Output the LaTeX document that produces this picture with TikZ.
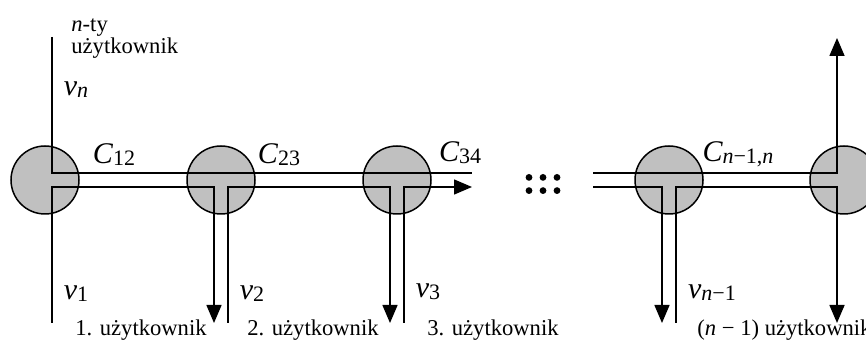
\documentclass[tikz,border=0pt]{standalone}
\usepackage{fontspec}
\setmainfont{Liberation Serif}
\usetikzlibrary{arrows.meta, positioning, calc}
\definecolor{nodegray}{RGB}{192,192,192}
\newcommand{\varlab}[2]{{\fontsize{15}{15}\selectfont\itshape #1}{\fontsize{11}{11}\selectfont\raisebox{-1pt}{#2}}}
\tikzset{
  station/.style={
    circle,
    draw,
    fill=nodegray,
    line width=0.75pt,
    minimum size=34pt,
    inner sep=0pt,
    outer sep=0pt
  },
  wire/.style={line width=0.75pt},
  arrow/.style={-{Triangle[length=9pt, width=7.5pt]}, line width=0.75pt},
  lab/.style={inner sep=0pt, font=\fontsize{11.3}{11}\selectfont},
  varnode/.style={inner sep=0pt}
}
\begin{document}
\begin{tikzpicture}[x=1pt, y=1pt]
  \useasboundingbox (0,0) rectangle (433,-170);

  \node[station] (s1) at (22.5,-90) {};
  \node[station, right=54pt of s1] (s2) {};
  \node[station, right=54pt of s2] (s3) {};
  \node[station, right=102pt of s3] (s4) {};
  \node[station, right=53.5pt of s4] (s5) {};

  % free ends of the lines
  \coordinate (top1) at ($(s1)+(3.5,71.5)$);
  \coordinate (bot1) at ($(s1)+(3.5,-71.5)$);
  \coordinate (tip2) at ($(s2)+(-3.5,-71.5)$);
  \coordinate (foot2) at ($(s2)+(3.5,-71.5)$);
  \coordinate (tip3) at ($(s3)+(-3.5,-71.5)$);
  \coordinate (foot3) at ($(s3)+(3.5,-71.5)$);
  \coordinate (end3u) at (236,-86.5);
  \coordinate (end3l) at (236,-93.5);
  \coordinate (beg4u) at (296.5,-86.5);
  \coordinate (beg4l) at (296.5,-93.5);
  \coordinate (tip4) at ($(s4)+(-3.5,-71.5)$);
  \coordinate (foot4) at ($(s4)+(3.5,-71.5)$);
  \coordinate (top5) at ($(s5)+(-3.5,71)$);
  \coordinate (tip5) at ($(s5)+(-3.5,-71.5)$);

  \draw[wire] (top1) -- ($(s1)+(3.5,3.5)$) -- (end3u);
  \draw[arrow] (bot1) -- ($(s1)+(3.5,-3.5)$) -- ($(s2)+(-3.5,-3.5)$) -- (tip2);
  \draw[arrow] (foot2) -- ($(s2)+(3.5,-3.5)$) -- ($(s3)+(-3.5,-3.5)$) -- (tip3);
  \draw[arrow] (foot3) -- ($(s3)+(3.5,-3.5)$) -- (end3l);

  \draw[arrow] (beg4u) -- ($(s5)+(-3.5,3.5)$) -- (top5);
  \draw[arrow] (beg4l) -- ($(s4)+(-3.5,-3.5)$) -- (tip4);
  \draw[arrow] (foot4) -- ($(s4)+(3.5,-3.5)$) -- ($(s5)+(-3.5,-3.5)$) -- (tip5);

  % dots
  \foreach \dx in {264.5, 271.5, 278.5}
    \foreach \dy in {-88.7, -95.3}
      \fill (\dx,\dy) circle (1.7);

  % labels
  \node[lab, anchor=north west, align=left] (nth) at (35.5,-9)
        {\textit{n}-ty\\użytkownik};
  \node[varnode] (vn) at (38,-45) {\varlab{v}{\itshape n}};
  \node[varnode] (c12) at (57,-77.5) {\varlab{C}{12}};
  \node[varnode] (c23) at (139.5,-77.5) {\varlab{C}{23}};
  \node[varnode] (c34) at (230,-76.5) {\varlab{C}{34}};
  \node[varnode] (cn) at (369,-77) {\varlab{C}{\textit{n}−1,\textit{n}}};
  \node[varnode] (v1) at (38,-147) {\varlab{v}{1}};
  \node[varnode] (v2) at (126,-147) {\varlab{v}{2}};
  \node[varnode] (v3) at (214,-146) {\varlab{v}{3}};
  \node[varnode] (vn1) at (356,-146.5) {\varlab{v}{\textit{n}−1}};

  \node[lab, anchor=base west] (u1) at (37.5,-168) {1. użytkownik};
  \node[lab, anchor=base west] (u2) at (123.5,-168) {2. użytkownik};
  \node[lab, anchor=base west] (u3) at (213.5,-168) {3. użytkownik};
  \node[lab, anchor=base west] (un) at (348.5,-168) {(\textit{n} − 1) użytkownik};
\end{tikzpicture}
\end{document}
